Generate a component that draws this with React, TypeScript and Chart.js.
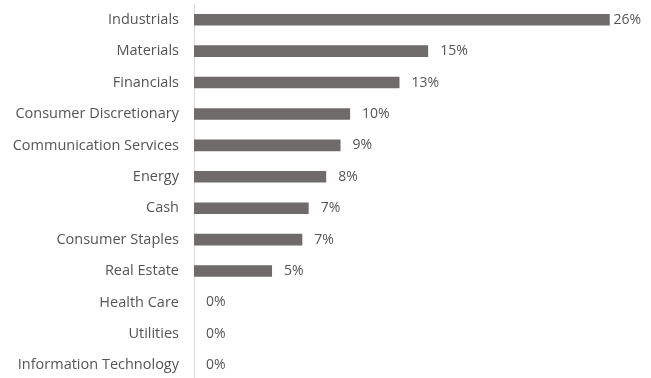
import React, { useEffect, useRef } from "react";
import { Chart, registerables } from "chart.js";

Chart.register(...registerables);

const categories = [
  "Industrials",
  "Materials",
  "Financials",
  "Consumer Discretionary",
  "Communication Services",
  "Energy",
  "Cash",
  "Consumer Staples",
  "Real Estate",
  "Health Care",
  "Utilities",
  "Information Technology",
];
const values = [26.1, 14.7, 12.9, 9.8, 9.2, 8.3, 7.2, 6.8, 4.9, 0, 0, 0];
const valueLabels = ["26%", "15%", "13%", "10%", "9%", "8%", "7%", "7%", "5%", "0%", "0%", "0%"];

const FONT = "'Open Sans', sans-serif";
const TEXT_COLOR = "#555555";

const labelPlugin = {
  id: "valueLabels",
  afterDatasetsDraw(chart: any) {
    const ctx = chart.ctx;
    const meta = chart.getDatasetMeta(0);
    ctx.save();
    ctx.font = `14px ${FONT}`;
    ctx.fillStyle = TEXT_COLOR;
    ctx.textBaseline = "middle";
    ctx.textAlign = "left";
    meta.data.forEach((bar: any, i: number) => {
      const text = valueLabels[i];
      const w = ctx.measureText(text).width;
      let x = bar.x + 12;
      const maxX = chart.width - 10 - w;
      if (x > maxX) x = maxX;
      ctx.fillText(text, x, bar.y);
    });
    ctx.restore();
  },
};

export default function App() {
  const ref = useRef<HTMLCanvasElement>(null);
  useEffect(() => {
    const chart = new Chart(ref.current!, {
      type: "bar",
      data: {
        labels: categories,
        datasets: [
          {
            data: values,
            backgroundColor: "#6f6b6b",
            barPercentage: 0.37,
            categoryPercentage: 1,
          },
        ],
      },
      options: {
        indexAxis: "y",
        animation: false,
        responsive: false,
        maintainAspectRatio: false,
        layout: { padding: { top: 4, right: 11, bottom: 1, left: 0 } },
        plugins: { legend: { display: false }, tooltip: { enabled: false } },
        scales: {
          x: {
            display: false,
            min: 0,
            max: 28,
          },
          y: {
            afterFit(scale: any) {
              scale.width = 194;
              scale.paddingTop = 0;
              scale.paddingBottom = 0;
            },
            grid: { display: false, drawTicks: false },
            border: { display: true, color: "#d9d9d9", width: 1 },
            ticks: {
              padding: 15,
              color: TEXT_COLOR,
              font: { family: FONT, size: 14.5 },
            },
          },
        },
      },
      plugins: [labelPlugin],
    });
    return () => chart.destroy();
  }, []);
  return (
    <div style={{ position: "fixed", left: 0, top: 0, width: 651, height: 382, background: "#fff" }}>
      <canvas ref={ref} width={651} height={382} style={{ width: 651, height: 382, display: "block" }} />
    </div>
  );
}
